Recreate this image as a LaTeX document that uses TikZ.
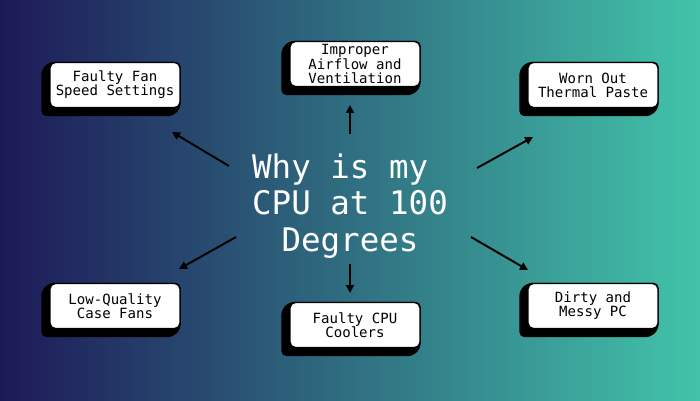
\documentclass[tikz,border=0pt]{standalone}
\usepackage{fontspec}
\setmonofont{DejaVu Sans Mono}
\usetikzlibrary{arrows.meta,calc}
\definecolor{bgnavy}{HTML}{1D1958}
\definecolor{bgteal}{HTML}{42C4AA}
\pgfdeclarelayer{backdrop}
\pgfdeclarelayer{extrude}
\pgfsetlayers{backdrop,extrude,main}

\begin{document}
\begin{tikzpicture}[x=0.02cm,y=-0.02cm,
  cause/.style={rectangle,rounded corners=3pt,draw=black,line width=0.8pt,
                fill=white,minimum width=2.6cm,minimum height=0.9cm,
                inner sep=0pt,font=\fontsize{8}{8}\ttfamily,align=center},
  headline/.style={text=white,font=\fontsize{18.5}{20.8}\ttfamily,
                   align=center},
  slab/.style={fill=black,rounded corners=3pt},
  link/.style={-{Triangle[length=4.5pt,width=4.5pt]},line width=1.1pt,
               draw=black}
]
  \useasboundingbox (0,0) rectangle (700,400);

  % ---- Background gradient ------------------------------------
  \begin{pgfonlayer}{backdrop}
    \fill[left color=bgnavy,right color=bgteal] (0,0) rectangle (700,400);
  \end{pgfonlayer}

  % ---- Central question ---------------------------------------
  \node[headline] (why) at (350,206)
    {Why is my\hphantom{0}\\CPU at 100\\Degrees};

  % ---- Cause boxes --------------------------------------------
  \node[cause] (fanspeed) at (115,85)  {Faulty Fan\\Speed Settings};
  \node[cause] (airflow)  at (355,64)  {Improper\\Airflow and\\Ventilation};
  \node[cause] (paste)    at (593,85)  {Worn Out\\Thermal Paste};
  \node[cause] (casefans) at (115,306) {Low-Quality\\Case Fans};
  \node[cause] (coolers)  at (355,325) {Faulty CPU\\Coolers};
  \node[cause] (dirty)    at (593,306) {Dirty and\\Messy PC};

  % ---- Extruded shadows behind the boxes ----------------------
  \begin{pgfonlayer}{extrude}
    \foreach \b in {fanspeed,airflow,paste,casefans,coolers,dirty}
      \fill[slab] (\b.north west) -- (\b.north east) -- (\b.south east)
        -- ($(\b.south east)+(-8,8)$) -- ($(\b.south west)+(-8,8)$)
        -- ($(\b.north west)+(-8,8)$) -- cycle;
  \end{pgfonlayer}

  % ---- Arrows from the question -------------------------------
  \coordinate (fanFrom)   at (229,166); \coordinate (fanTo)   at (172,132);
  \coordinate (airFrom)   at (350,134); \coordinate (airTo)   at (350,105);
  \coordinate (pasteFrom) at (477,168); \coordinate (pasteTo) at (533,137);
  \coordinate (caseFrom)  at (236,237); \coordinate (caseTo)  at (179,269);
  \coordinate (coolFrom)  at (350,264); \coordinate (coolTo)  at (350,293);
  \coordinate (dirtFrom)  at (471,237); \coordinate (dirtTo)  at (528,270);

  \draw[link] (fanFrom) -- (fanTo);
  \draw[link] (airFrom) -- (airTo);
  \draw[link] (pasteFrom) -- (pasteTo);
  \draw[link] (caseFrom) -- (caseTo);
  \draw[link] (coolFrom) -- (coolTo);
  \draw[link] (dirtFrom) -- (dirtTo);

\end{tikzpicture}
\end{document}
